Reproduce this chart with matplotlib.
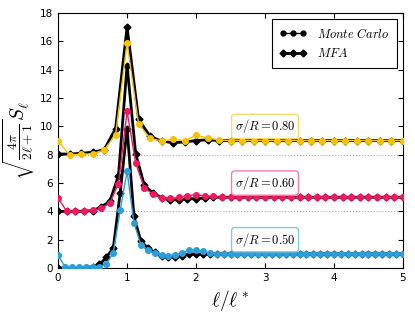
import matplotlib
matplotlib.use("Agg")
import matplotlib.pyplot as plt
from matplotlib.lines import Line2D
import numpy as np

plt.rcParams['mathtext.fontset'] = 'cm'

# sigma/R labels, l* for each case and vertical offset in the plot
sigmas = ["0.80", "0.60", "0.50"]
lstars = [6, 8, 10]
offsets = [8, 4, 0]
colors = ["#f7c200", "#f2175f", "#2b9fdb"]
box_colors = ["#fbd96a", "#f47fa6", "#86c6ec"]

# Monte Carlo values, l = 0, 1, 2, ...
mc_080 = [0.94, 0.0, 0.03, 0.08, 0.33, 1.41, 7.9, 2.15, 1.16, 0.97, 1.08, 1.0,
          1.37, 1.18, 1.03, 1.0, 1.0, 1.0, 1.0, 1.0, 1.0, 1.0, 1.0, 1.0, 1.0,
          1.0, 1.0, 1.0, 1.0, 1.0, 1.0]
mc_060 = [0.95, 0.0, 0.0, 0.02, 0.07, 0.21, 0.59, 1.96, 7.06, 3.42, 1.65, 1.23,
          0.95, 0.92, 0.98, 1.12, 1.17, 1.1, 1.06, 1.0, 1.0, 1.0, 1.0, 1.0,
          1.0, 1.0, 1.0, 1.0, 1.0, 1.0, 1.0, 1.0, 1.0, 1.0, 1.0, 1.0, 1.0,
          1.0, 1.0, 1.0, 1.0]
mc_050 = [0.95, 0.05, 0.05, 0.05, 0.05, 0.05, 0.1, 0.29, 1.07, 4.07, 6.83, 3.18,
          1.65, 1.3, 1.05, 0.92, 0.83, 0.95, 1.07, 1.25, 1.25, 1.18, 1.07, 1.0,
          1.0, 1.0, 1.0, 1.0, 1.0, 1.0, 1.0, 1.0, 1.0, 1.0, 1.0, 1.0, 1.0,
          1.0, 1.0, 1.0, 1.0, 1.0, 1.0, 1.0, 1.0, 1.0, 1.0, 1.0, 1.0, 1.0, 1.0]

# mean field approximation values
mfa_080 = [0.05, 0.05, 0.1, 0.18, 0.35, 1.84, 9.0, 2.5, 1.3, 0.96, 0.85, 0.9,
           1.0, 1.05, 1.0, 1.0, 1.0, 1.0, 1.0, 1.0, 1.0, 1.0, 1.0, 1.0, 1.0,
           1.0, 1.0, 1.0, 1.0, 1.0, 1.0]
mfa_060 = [0.0, 0.0, 0.0, 0.02, 0.05, 0.31, 0.71, 2.52, 10.3, 4.06, 1.85, 1.3,
           0.97, 0.8, 0.83, 0.88, 0.9, 0.95, 1.0, 1.0, 1.0, 1.0, 1.0, 1.0,
           1.0, 1.0, 1.0, 1.0, 1.0, 1.0, 1.0, 1.0, 1.0, 1.0, 1.0, 1.0, 1.0,
           1.0, 1.0, 1.0, 1.0]
mfa_050 = [0.0, 0.0, 0.0, 0.0, 0.02, 0.1, 0.25, 0.75, 1.42, 5.3, 9.85, 3.65,
           1.89, 1.42, 1.1, 0.82, 0.76, 0.78, 0.88, 0.98, 1.0, 0.97, 1.0, 1.0,
           1.0, 1.0, 1.0, 1.0, 1.0, 1.0, 1.0, 1.0, 1.0, 1.0, 1.0, 1.0, 1.0,
           1.0, 1.0, 1.0, 1.0, 1.0, 1.0, 1.0, 1.0, 1.0, 1.0, 1.0, 1.0, 1.0, 1.0]

mc_all = [mc_080, mc_060, mc_050]
mfa_all = [mfa_080, mfa_060, mfa_050]

fig = plt.figure(figsize=(4.15, 3.12), dpi=100)
ax = fig.add_axes([0.14, 0.141, 0.831, 0.817])

for off in [4, 8]:
    ax.axhline(off, color="#aaaaaa", ls=":", lw=0.8, zorder=0)

for sig, ls, off, c, bc, mc, mfa in zip(sigmas, lstars, offsets, colors,
                                         box_colors, mc_all, mfa_all):
    x = np.arange(len(mfa)) / ls
    ax.plot(x, np.array(mfa) + off, color="black", lw=2, marker="D", ms=3.5,
            zorder=2)
    x = np.arange(len(mc)) / ls
    ax.plot(x, np.array(mc) + off, color=c, lw=1, marker="o", ms=4,
            mec=c, zorder=3)
    ax.text(3.0, off + 2.0, r"$\sigma/R = 0.%s$" % sig[2:], ha="center",
            va="center", fontsize=9, zorder=5,
            bbox=dict(boxstyle="round,pad=0.25", fc="white", ec=bc, lw=1))

ax.set_xlim(0, 5)
ax.set_ylim(0, 18)
ax.set_xticks(range(6))
ax.set_yticks(range(0, 19, 2))
ax.tick_params(direction="in", top=True, right=True, labelsize=7.5, length=3.5)
ax.set_xlabel(r"$\ell/\ell^*$", fontsize=14)
ax.set_ylabel(r"$\sqrt{\frac{4\pi}{2\ell+1}}S_\ell$", fontsize=14, labelpad=2)

handles = [Line2D([], [], color="black", lw=1, marker="o", ms=3.5),
           Line2D([], [], color="black", lw=2, marker="D", ms=3.5)]
leg = ax.legend(handles, [r"$Monte\ Carlo$", r"$MFA$"], loc="upper right",
                fontsize=9, fancybox=False, edgecolor="black", framealpha=1,
                handlelength=2.2, borderpad=0.6, numpoints=3)
leg.get_frame().set_linewidth(0.8)

fig.savefig("out.png", dpi=100)
